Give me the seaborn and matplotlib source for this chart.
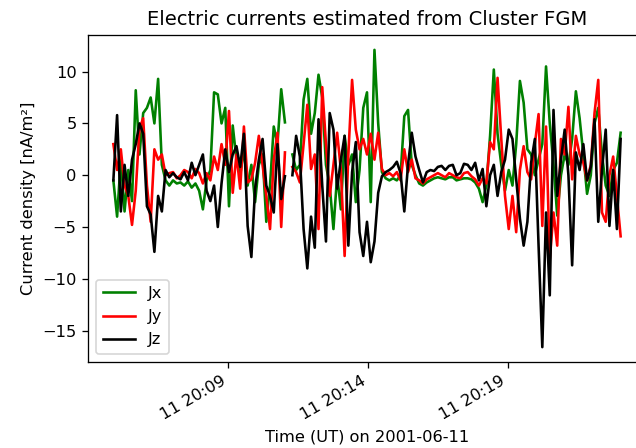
import matplotlib
matplotlib.use("Agg")
import matplotlib.pyplot as plt
import matplotlib.dates as mdates
from matplotlib.lines import Line2D
import numpy as np
import pandas as pd
import seaborn as sns

nan = np.nan

# 8 s samples
times = pd.date_range("2001-06-11 20:04:54", periods=137, freq="8s")

jx = [-0.5, -4.0, 1.5, -3.5, 0.5, -2.5, 8.2, 2.0, 6.0, 6.5,
      7.5, 5.0, 9.3, 1.0, -0.5, -1.0, -0.5, -0.8, -0.7, -1.0,
      -0.6, -1.2, -0.8, -1.5, -3.3, -0.5, 0.5, 8.0, 7.8, 5.0,
      6.5, -3.0, 4.8, 1.5, 0.0, 2.5, -1.0, 1.0, -2.6, 1.0,
      2.0, -4.5, -1.0, 4.7, 3.0, 8.3, 5.1, nan, 2.0, 0.5,
      1.0, 7.3, 9.3, 4.0, 6.0, 9.7, 7.5, 1.0, -1.0, -5.2,
      0.0, -3.3, 3.8, 1.0, 2.0, -2.6, 0.5, 6.5, 8.0, -2.6,
      12.1, 5.0, 0.3, -0.3, -0.5, -0.3, -0.5, 0.0, 5.7, 6.3,
      1.0, 0.0, -0.8, -1.0, -0.7, -0.5, -0.3, -0.2, -0.3, -0.4,
      -0.2, -0.2, -0.5, -0.4, -0.3, -0.3, -0.4, -0.7, -1.3, -2.6,
      -1.0, 3.8, 10.2, 4.0, 1.0, -1.5, 0.5, -1.0, 3.0, 9.1,
      7.0, 2.5, 2.0, 0.0, 1.5, 3.0, 10.5, 5.0, 1.0, -3.9,
      0.0, 2.0, 1.0, 3.5, 8.1, 5.5, 2.0, -1.8, 0.0, 5.0,
      6.5, 2.0, -1.0, -2.0, 0.5, 1.2, 4.1]

jy = [3.0, 0.5, 2.5, -1.0, -2.0, -4.8, -1.5, 4.5, 5.5, -1.0,
      -4.5, 2.5, 1.5, 2.0, 0.0, 0.2, 0.3, -0.3, 0.0, 0.5,
      0.3, -0.3, 0.6, 0.2, -0.8, 0.2, -0.5, 1.8, 0.5, 3.0,
      1.0, 6.2, -1.7, 2.0, -1.3, 4.7, -0.7, -0.4, 1.2, 3.8,
      1.0, -2.0, -5.2, 1.5, 4.1, -5.0, 2.2, nan, 0.8, 0.3,
      -0.7, 3.0, 6.8, 0.6, 2.0, -5.2, 8.5, 3.0, -2.0, 1.0,
      4.1, 0.5, -7.8, 2.0, 9.2, 4.4, 2.5, 3.5, 2.0, 4.0,
      1.5, 4.1, 0.6, 0.0, 0.2, -0.1, 0.3, -0.5, 2.5, 0.3,
      1.5, -0.3, -0.5, -0.8, -0.4, -0.2, 0.0, 0.2, 0.0, -0.2,
      0.2, 0.0, -0.2, -0.3, 0.2, 0.3, -0.1, -0.4, -1.0, -0.3,
      -0.8, 3.2, 2.5, 9.4, 3.5, -2.0, -5.2, -2.0, -5.5, 0.5,
      2.8, 0.3, -0.4, 3.0, 5.9, -4.9, 4.7, -8.1, -3.6, -6.8,
      3.5, 2.0, 6.6, -0.4, 3.8, 2.0, 1.2, -0.5, 1.0, 6.0,
      9.2, -3.6, -4.5, 0.0, 1.8, -2.0, -5.9]

jz = [-0.5, 5.8, -3.5, 1.0, -2.0, 1.5, 3.0, 5.0, 4.0, -3.0,
      -3.8, -7.4, -2.0, -3.5, 0.5, -0.2, 0.2, -0.2, -0.4, 0.3,
      -0.5, 1.2, 0.0, 1.0, 2.0, -1.5, -2.5, -1.0, -5.0, -0.8,
      2.5, 0.3, 2.0, 2.8, 0.8, 4.0, -4.9, -7.9, -1.3, 1.5,
      3.5, -1.0, -2.0, -3.6, 3.0, -2.3, -0.1, nan, 0.0, 3.8,
      1.8, -5.2, -9.0, -4.0, -7.0, 5.4, -1.0, -6.4, 6.0, 4.4,
      -1.3, 1.5, 3.8, -6.8, 0.3, 3.2, -5.5, -7.8, -4.5, -8.4,
      -6.4, -1.7, -0.1, 0.3, 0.5, 0.8, 1.3, 0.2, -3.5, 1.0,
      4.1, 1.8, 0.5, -0.7, 0.3, 0.5, 0.4, 0.8, 0.9, 0.5,
      0.9, 1.0, 0.0, 0.2, 1.1, 1.0, 0.5, 1.2, -0.5, 0.6,
      -3.0, 0.0, 1.0, -2.0, 0.3, 1.5, 4.4, 3.5, -0.4, -4.2,
      -6.8, -4.5, 1.2, 3.5, -6.8, -16.6, -3.6, -11.6, 6.3, -2.0,
      1.5, 4.4, 0.0, -8.7, 2.2, 0.5, 3.0, -0.5, 0.8, 5.4,
      -4.5, 0.5, 4.4, -4.9, 0.5, -5.2, 3.5]

names = ["Jx", "Jy", "Jz"]
colors = ["green", "red", "black"]

dpi = 117
fig = plt.figure(figsize=(636 / dpi, 448 / dpi), dpi=dpi)
ax = fig.add_axes([88 / 636, 1 - 362 / 448, (646 - 88) / 636, (362 - 35) / 448])

for name, vals, col in zip(names, [jx, jy, jz], colors):
    df = pd.DataFrame({"time": times, "J": vals})
    # break the line where samples are missing
    df["seg"] = df["J"].isna().cumsum()
    df = df.dropna()
    sns.lineplot(data=df, x="time", y="J", units="seg", estimator=None,
                 color=col, linewidth=1.6, ax=ax)

ax.xaxis.set_major_locator(mdates.MinuteLocator(byminute=[9, 14, 19]))
ax.xaxis.set_major_formatter(mdates.DateFormatter("%d %H:%M"))
for lab in ax.get_xticklabels():
    lab.set_rotation(30)
    lab.set_ha("right")

ax.set_xlabel("Time (UT) on 2001-06-11")
ax.set_ylabel("Current density [nA/m²]")
ax.set_title("Electric currents estimated from Cluster FGM")
handles = [Line2D([], [], color=c, linewidth=1.6, label=n) for n, c in zip(names, colors)]
ax.legend(handles=handles, loc="lower left")

fig.savefig("out.png", dpi=dpi)
